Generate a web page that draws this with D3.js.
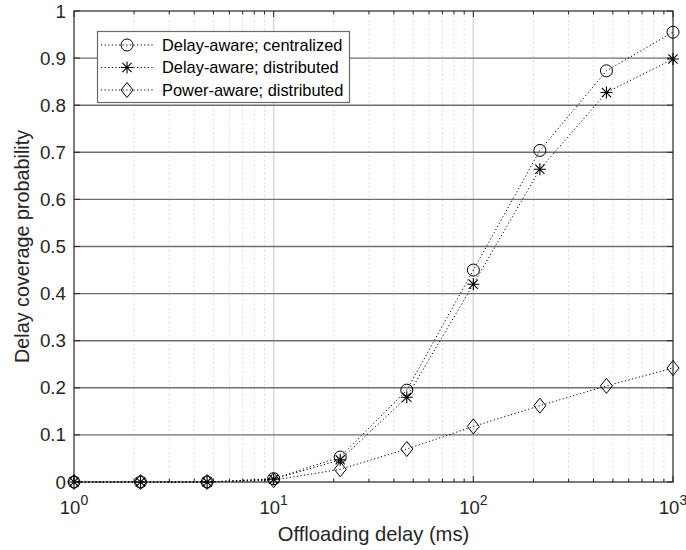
<!DOCTYPE html>
<html>
<head>
<meta charset="utf-8">
<script src="https://cdn.jsdelivr.net/npm/d3@7"></script>
<style>
  html, body { margin: 0; padding: 0; background: #fff; }
  svg { display: block; font-family: "Liberation Sans", Arial, Helvetica, sans-serif; }
</style>
</head>
<body>
<svg id="chart" width="686" height="550"></svg>
<script>
// Offloading delay (ms), log-spaced sample points
const delays = [1, 2.154, 4.642, 10, 21.54, 46.42, 100, 215.4, 464.2, 1000];

// Delay coverage probability per scheme
const delayAwareCentralized = [0, 0, 0, 0.007, 0.053, 0.195, 0.450, 0.704, 0.873, 0.955];
const delayAwareDistributed = [0, 0, 0, 0.006, 0.047, 0.180, 0.420, 0.664, 0.827, 0.898];
const powerAwareDistributed = [0, 0, 0, 0.004, 0.027, 0.070, 0.118, 0.162, 0.204, 0.242];

const seriesNames = ["Delay-aware; centralized", "Delay-aware; distributed", "Power-aware; distributed"];
const seriesMarkers = ["circle", "star", "diamond"];

const xTickExponents = [0, 1, 2, 3];
const yTicks = [0, 0.1, 0.2, 0.3, 0.4, 0.5, 0.6, 0.7, 0.8, 0.9, 1];

(function () {
const svg = d3.select("#chart");
const pl = 74, pr = 673, pt = 11, pb = 482;
const ink = "#262626";

const x = d3.scaleLog().domain([1, 1000]).range([pl, pr]);
const y = d3.scaleLinear().domain([0, 1]).range([pb, pt]);

svg.append("rect").attr("width", 686).attr("height", 550).attr("fill", "#fff");

// minor vertical grid (2..9 in each decade)
const minorX = [];
for (let d = 0; d < 3; d++) for (let m = 2; m <= 9; m++) minorX.push(m * Math.pow(10, d));
svg.append("g").selectAll("line").data(minorX).join("line")
  .attr("x1", d => x(d)).attr("x2", d => x(d))
  .attr("y1", pt).attr("y2", pb)
  .attr("stroke", "#d6d6d6").attr("stroke-width", 1)
  .attr("stroke-dasharray", "1.5,3");

// major vertical grid
svg.append("g").selectAll("line").data([10, 100]).join("line")
  .attr("x1", d => x(d)).attr("x2", d => x(d))
  .attr("y1", pt).attr("y2", pb)
  .attr("stroke", "#d8d8d8").attr("stroke-width", 1.6);

// horizontal grid
svg.append("g").selectAll("line").data(yTicks.slice(1, -1)).join("line")
  .attr("x1", pl).attr("x2", pr)
  .attr("y1", d => y(d)).attr("y2", d => y(d))
  .attr("stroke", "#6e6e6e").attr("stroke-width", 1.4);

// axis ticks (inward) on all sides
const tickG = svg.append("g").attr("stroke", ink).attr("stroke-width", 1);
const majorX = xTickExponents.map(e => Math.pow(10, e));
minorX.forEach(v => {
  tickG.append("line").attr("x1", x(v)).attr("x2", x(v)).attr("y1", pb).attr("y2", pb - 3.5);
  tickG.append("line").attr("x1", x(v)).attr("x2", x(v)).attr("y1", pt).attr("y2", pt + 3.5);
});
majorX.forEach(v => {
  tickG.append("line").attr("x1", x(v)).attr("x2", x(v)).attr("y1", pb).attr("y2", pb - 6);
  tickG.append("line").attr("x1", x(v)).attr("x2", x(v)).attr("y1", pt).attr("y2", pt + 6);
});
yTicks.forEach(v => {
  tickG.append("line").attr("x1", pl).attr("x2", pl + 6).attr("y1", y(v)).attr("y2", y(v));
  tickG.append("line").attr("x1", pr).attr("x2", pr - 6).attr("y1", y(v)).attr("y2", y(v));
});

// axes box
svg.append("rect")
  .attr("x", pl).attr("y", pt)
  .attr("width", pr - pl).attr("height", pb - pt)
  .attr("fill", "none").attr("stroke", ink).attr("stroke-width", 1.2);

// y tick labels
const fmtY = d3.format(".1~f");
svg.append("g").selectAll("text").data(yTicks).join("text")
  .attr("x", pl - 8).attr("y", d => y(d))
  .attr("dy", "0.35em")
  .attr("text-anchor", "end")
  .attr("font-size", 18.8).attr("fill", ink)
  .text(d => fmtY(d));

// x tick labels: 10^n
const xl = svg.append("g").selectAll("text").data(xTickExponents).join("text")
  .attr("x", d => x(Math.pow(10, d)))
  .attr("y", 514)
  .attr("text-anchor", "middle")
  .attr("font-size", 18.5).attr("fill", ink);
xl.append("tspan").text("10");
xl.append("tspan").attr("dy", -9.5).attr("font-size", 14).text(d => d);

// axis titles
svg.append("text")
  .attr("x", (pl + pr) / 2).attr("y", 541)
  .attr("text-anchor", "middle")
  .attr("font-size", 20.2).attr("fill", ink)
  .text("Offloading delay (ms)");
svg.append("text")
  .attr("transform", `translate(29,${(pt + pb) / 2}) rotate(-90)`)
  .attr("text-anchor", "middle")
  .attr("font-size", 19.8).attr("fill", ink)
  .text("Delay coverage probability");

// marker drawing
function drawMarker(g, type, cx, cy) {
  if (type === "circle") {
    g.append("circle").attr("cx", cx).attr("cy", cy).attr("r", 6)
      .attr("fill", "none").attr("stroke", "#000").attr("stroke-width", 1);
  } else if (type === "star") {
    const r = 6, rd = 4.6;
    const p = `M${cx - r},${cy}L${cx + r},${cy}M${cx},${cy - r}L${cx},${cy + r}` +
      `M${cx - rd},${cy - rd}L${cx + rd},${cy + rd}M${cx - rd},${cy + rd}L${cx + rd},${cy - rd}`;
    g.append("path").attr("d", p).attr("fill", "none").attr("stroke", "#000").attr("stroke-width", 1.1);
  } else {
    const w = 6, h = 7.5;
    g.append("path")
      .attr("d", `M${cx},${cy - h}L${cx + w},${cy}L${cx},${cy + h}L${cx - w},${cy}Z`)
      .attr("fill", "none").attr("stroke", "#000").attr("stroke-width", 1);
  }
}

const seriesValues = [delayAwareCentralized, delayAwareDistributed, powerAwareDistributed];
const line = d3.line().x(d => x(d[0])).y(d => y(d[1]));

seriesValues.forEach((vals, i) => {
  const pts = delays.map((d, j) => [d, vals[j]]);
  const g = svg.append("g");
  g.append("path").datum(pts).attr("d", line)
    .attr("fill", "none").attr("stroke", "#000").attr("stroke-width", 1)
    .attr("stroke-dasharray", "1.2,2.4");
  pts.forEach(p => drawMarker(g, seriesMarkers[i], x(p[0]), y(p[1])));
});

// legend
const lg = svg.append("g");
lg.append("rect").attr("x", 97.5).attr("y", 31.5).attr("width", 252).attr("height", 71)
  .attr("fill", "#fff").attr("stroke", "#6a6a6a").attr("stroke-width", 1.2);
const rowY = [45, 67.5, 90];
seriesNames.forEach((name, i) => {
  const cy = rowY[i];
  lg.append("line").attr("x1", 101).attr("x2", 153).attr("y1", cy).attr("y2", cy)
    .attr("stroke", "#000").attr("stroke-width", 1).attr("stroke-dasharray", "1.2,2.4");
  drawMarker(lg, seriesMarkers[i], 127, cy);
  lg.append("text").attr("x", 162).attr("y", cy).attr("dy", "0.36em")
    .attr("font-size", 16.4).attr("fill", "#000").text(name);
});
})();
</script>
</body>
</html>
